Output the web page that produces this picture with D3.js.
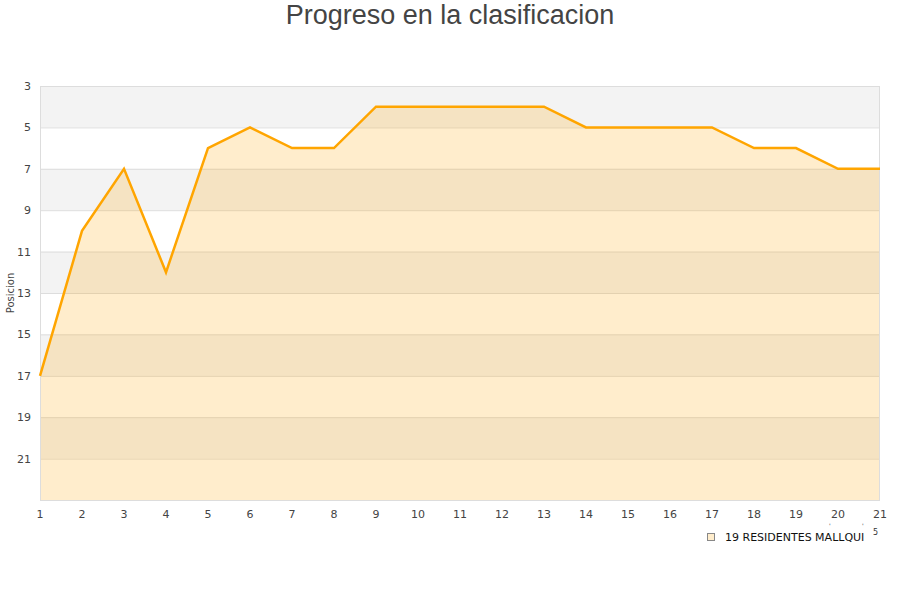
<!DOCTYPE html>
<html><head><meta charset="utf-8">
<script src="https://cdn.jsdelivr.net/npm/d3@7"></script>
<style>body{margin:0;background:#fff}svg{display:block}</style>
</head><body>
<svg id="c" width="900" height="600"></svg>
<script>
const title = "Progreso en la clasificacion";
const yLabel = "Posicion";
const seriesName = "19 RESIDENTES MALLQUI";
const jornadas = [1,2,3,4,5,6,7,8,9,10,11,12,13,14,15,16,17,18,19,20,21];
const posiciones = [17,10,7,12,6,5,6,6,4,4,4,4,4,5,5,5,5,6,6,7,7];
const yTicks = [3,5,7,9,11,13,15,17,19,21];
const yDomain = [3,23];

const svg = d3.select("#c");
const m = {l:40, r:880, t:86, b:500};
const x = d3.scaleLinear().domain([1,21]).range([m.l, m.r]);
const y = d3.scaleLinear().domain(yDomain).range([m.t, m.b]);

// bands
const bands = d3.range(yDomain[0], yDomain[1], 2);
svg.selectAll("rect.band").data(bands).join("rect")
  .attr("x", m.l).attr("width", m.r-m.l)
  .attr("y", d=>y(d)).attr("height", d=>y(d+2)-y(d))
  .attr("fill", (d,i)=> i%2===0 ? "#f3f3f3" : "#ffffff");

// grid lines
svg.selectAll("line.grid").data(yTicks.concat([23])).join("line")
  .attr("x1", m.l).attr("x2", m.r)
  .attr("y1", d=>y(d)+0.5).attr("y2", d=>y(d)+0.5)
  .attr("stroke", "#dddddd").attr("stroke-width",1);

// area
const pts = jornadas.map((j,i)=>[j,posiciones[i]]);
svg.append("path").datum(pts)
  .attr("d", d3.area().x(d=>x(d[0])).y0(y(yDomain[1])).y1(d=>y(d[1])))
  .attr("fill", "#ffa500").attr("fill-opacity", 0.2);

// plot border
svg.append("rect").attr("x", m.l+0.5).attr("y", m.t+0.5)
  .attr("width", m.r-m.l-1).attr("height", m.b-m.t)
  .attr("fill","none").attr("stroke","#dddddd");

// line
svg.append("path").datum(pts)
  .attr("d", d3.line().x(d=>x(d[0])).y(d=>y(d[1])))
  .attr("fill","none").attr("stroke","#ffa500").attr("stroke-width",2.5)
  .attr("stroke-linejoin","miter");

// y ticks
svg.selectAll("text.yt").data(yTicks).join("text")
  .attr("x", 31).attr("y", d=>y(d)+4)
  .attr("text-anchor","end")
  .attr("font-family","DejaVu Sans, sans-serif").attr("font-size",11)
  .attr("fill","#444").text(d=>d);

// x ticks
svg.selectAll("text.xt").data(jornadas).join("text")
  .attr("x", d=>x(d)).attr("y", 518)
  .attr("text-anchor","middle")
  .attr("font-family","DejaVu Sans, sans-serif").attr("font-size",11)
  .attr("fill","#444").text(d=>d);

// y label
svg.append("text").attr("transform","translate(14,293) rotate(-90)")
  .attr("text-anchor","middle")
  .attr("font-family","DejaVu Sans, sans-serif").attr("font-size",10)
  .attr("fill","#444").text(yLabel);

// title
svg.append("text").attr("x",450).attr("y",24)
  .attr("text-anchor","middle")
  .attr("font-family","Liberation Sans, Arial, sans-serif").attr("font-size",27)
  .attr("fill","#444").text(title);

// legend
svg.append("rect").attr("x",707.5).attr("y",533.5).attr("width",7).attr("height",7)
  .attr("fill","#ffedcc").attr("stroke","#888").attr("stroke-width",1);
svg.append("text").attr("x",725).attr("y",541)
  .attr("font-family","DejaVu Sans, sans-serif").attr("font-size",11)
  .attr("fill","#111").text(seriesName);
svg.append("text").attr("x",873).attr("y",535)
  .attr("font-family","DejaVu Sans, sans-serif").attr("font-size",8)
  .attr("fill","#333").text("5");
svg.append("text").attr("x",829).attr("y",528)
  .attr("font-family","DejaVu Sans, sans-serif").attr("font-size",6)
  .attr("fill","#333").text("'");
svg.append("text").attr("x",862).attr("y",528)
  .attr("font-family","DejaVu Sans, sans-serif").attr("font-size",6)
  .attr("fill","#333").text("'");
</script>
</body></html>
